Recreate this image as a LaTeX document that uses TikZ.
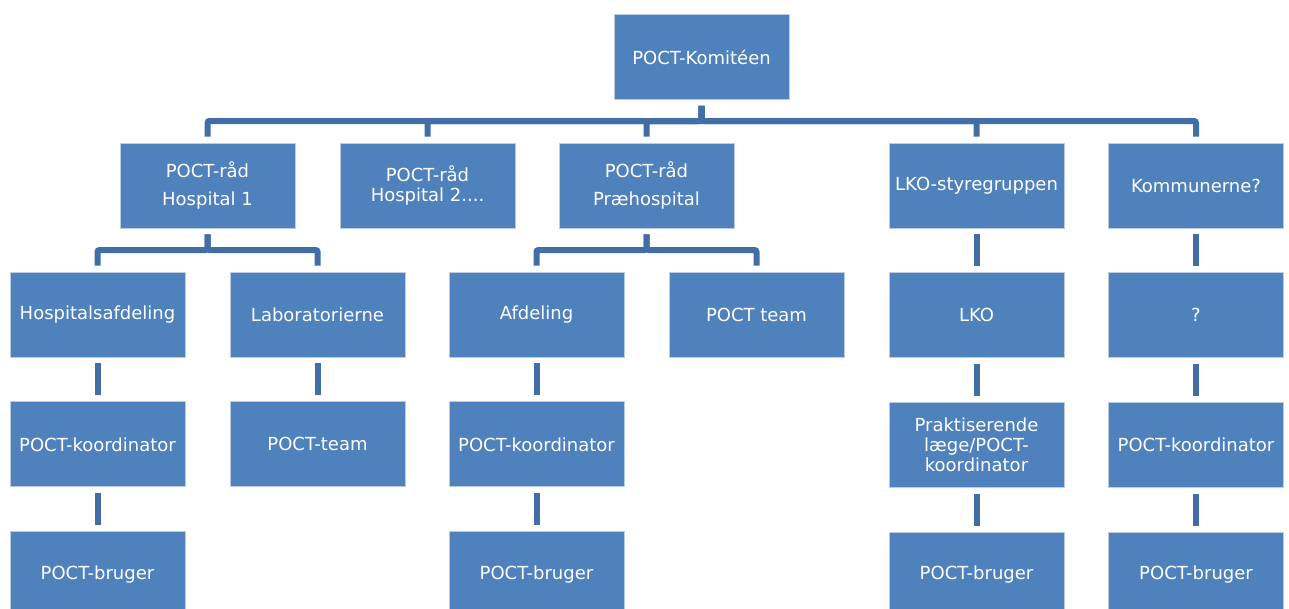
\documentclass[tikz,border=0pt]{standalone}
\usepackage{fontspec}
\setmainfont{DejaVu Sans}
\usetikzlibrary{positioning,calc}
\definecolor{boxblue}{HTML}{4F81BD}
\definecolor{lineblue}{HTML}{416EA6}

\begin{document}
\begin{tikzpicture}[x=1pt,y=-1pt]
\tikzset{
    orgbox/.style={rectangle, draw=white!60!boxblue, line width=0.8pt, fill=boxblue, text=white, minimum width=175pt, minimum height=85pt, inner sep=2pt, align=center, font=\fontsize{18}{20}\selectfont},
    conn/.style={draw=lineblue, line width=6pt, shorten <=6pt, shorten >=6pt, rounded corners=2pt}
}
\useasboundingbox (0,0) rectangle (1289,608);
\clip (0,0) rectangle (1289,608);

% top
\node[orgbox] (komite) at (701.5,57) {POCT-Komitéen};

% level 2
\node[orgbox] (raad1) at (207.5,185.5) {POCT-råd\\[8pt]Hospital 1};
\node[orgbox] (raad2) at (427.5,185.5) {POCT-råd\\Hospital 2....};
\node[orgbox] (prae) at (646.5,185.5) {POCT-råd\\[8pt]Præhospital};
\node[orgbox] (lkostyr) at (976.5,185.5) {LKO-styregruppen};
\node[orgbox] (kommune) at (1196,185.5) {Kommunerne?};

% level 3
\node[orgbox] (hosafd) at (97.5,314.5) {Hospitalsafdeling};
\node[orgbox] (lab) at (317.5,314.5) {Laboratorierne};
\node[orgbox] (afd) at (536.5,314.5) {Afdeling};
\node[orgbox] (pteam) at (756.5,314.5) {POCT team};
\node[orgbox, below=44pt of lkostyr] (lko) {LKO};
\node[orgbox, below=44pt of kommune] (qm) {?};

% level 4
\node[orgbox, below=44pt of hosafd] (koord1) {POCT-koordinator};
\node[orgbox, below=44pt of lab] (labteam) {POCT-team};
\node[orgbox, below=44pt of afd] (koord2) {POCT-koordinator};
\node[orgbox, below=44pt of lko] (praks) {Praktiserende\\læge/POCT-\\koordinator};
\node[orgbox, below=44pt of qm] (koord3) {POCT-koordinator};

% level 5
\node[orgbox, below=44pt of koord1] (bruger1) {POCT-bruger};
\node[orgbox, below=44pt of koord2] (bruger2) {POCT-bruger};
\node[orgbox, below=44pt of praks] (bruger3) {POCT-bruger};
\node[orgbox, below=44pt of koord3] (bruger4) {POCT-bruger};

% busses
\coordinate (bus1) at (0,121);
\coordinate (bus2) at (0,250);

\foreach \c in {raad1,raad2,prae,lkostyr,kommune}
    \draw[conn] (komite) -- (komite |- bus1) -| (\c);
\foreach \c in {hosafd,lab}
    \draw[conn] (raad1) -- (raad1 |- bus2) -| (\c);
\foreach \c in {afd,pteam}
    \draw[conn] (prae) -- (prae |- bus2) -| (\c);

\draw[conn] (lkostyr) -- (lko);
\draw[conn] (kommune) -- (qm);
\draw[conn] (hosafd) -- (koord1);
\draw[conn] (lab) -- (labteam);
\draw[conn] (afd) -- (koord2);
\draw[conn] (lko) -- (praks);
\draw[conn] (qm) -- (koord3);
\draw[conn] (koord1) -- (bruger1);
\draw[conn] (koord2) -- (bruger2);
\draw[conn] (praks) -- (bruger3);
\draw[conn] (koord3) -- (bruger4);
\end{tikzpicture}
\end{document}
